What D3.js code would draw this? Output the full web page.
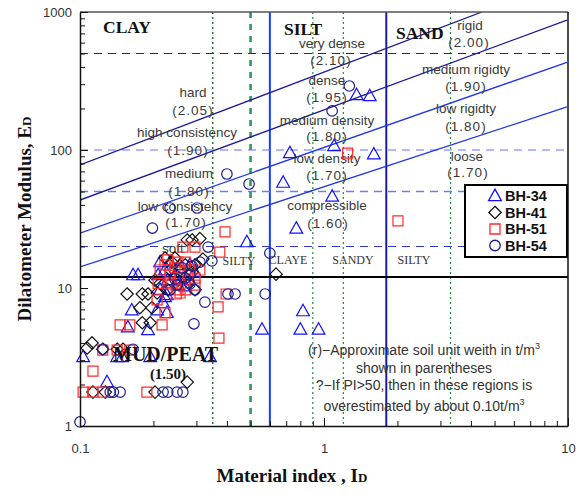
<!DOCTYPE html>
<html>
<head>
<meta charset="utf-8">
<script src="https://cdn.jsdelivr.net/npm/d3@7"></script>
<style>
  body { margin: 0; background: #fff; }
  svg { display: block; }
</style>
</head>
<body>
<div id="chart"></div>
<script>
// ---- data: [material index ID, dilatometer modulus ED] ----
const seriesNames = ["BH-34", "BH-41", "BH-51", "BH-54"];

const bh34 = [
  [1.36, 250], [1.54, 246], [0.725, 95], [1.10, 107], [1.60, 93], [0.68, 58], [1.08, 46],
  [0.77, 27], [0.483, 21.5], [0.82, 6.8], [0.557, 5.0], [0.80, 5.0], [0.95, 5.0],
  [0.341, 3.16], [0.103, 3.16], [0.142, 3.16], [0.149, 3.16], [0.194, 3.16], [0.129, 2.08],
  [0.163, 6.9], [0.157, 5.2], [0.190, 4.96], [0.207, 6.9], [0.227, 8.9], [0.227, 6.6],
  [0.173, 12.4], [0.165, 12.4], [0.223, 8.6], [0.219, 7.8],
  [0.213, 15.4], [0.223, 13.5], [0.245, 12.4], [0.27, 11.4], [0.282, 14.7], [0.252, 10.5],
  [0.234, 15.4], [0.257, 14.7], [0.296, 13.0], [0.229, 11.4], [0.27, 10.3], [0.213, 9.7],
  [0.209, 12.4]
];
const bh41 = [
  [0.636, 12.6], [0.275, 22.3], [0.288, 22.3], [0.31, 22.8], [0.319, 16.2],
  [0.156, 9.05], [0.180, 9.05], [0.190, 9.05], [0.207, 9.2], [0.176, 7.2], [0.197, 7.2],
  [0.180, 5.6], [0.194, 5.6], [0.112, 4.0], [0.107, 3.67], [0.124, 3.6], [0.142, 3.6],
  [0.150, 3.6], [0.113, 1.76], [0.127, 1.76], [0.203, 1.76], [0.275, 2.08],
  [0.223, 16.5], [0.238, 15.4], [0.257, 13.5], [0.277, 11.0], [0.229, 9.7], [0.213, 10.8],
  [0.203, 11.4], [0.296, 14.7], [0.245, 16.5], [0.27, 14.7], [0.288, 13.0], [0.234, 13.5],
  [0.252, 11.4], [0.296, 9.7]
];
const bh51 = [
  [1.25, 95], [2.01, 30.6], [0.393, 25.5], [0.296, 19.8], [0.264, 19.8], [0.374, 18.2],
  [0.229, 16.0], [0.397, 9.05], [0.368, 7.3], [0.371, 4.34], [0.257, 9.2], [0.209, 10.8],
  [0.207, 8.2], [0.223, 6.6], [0.217, 5.4], [0.146, 5.4], [0.160, 5.4], [0.124, 3.55],
  [0.142, 3.55], [0.160, 3.55], [0.113, 2.5], [0.103, 1.76], [0.113, 1.76], [0.124, 1.76],
  [0.188, 1.76], [0.245, 14.0], [0.27, 15.4], [0.282, 13.5], [0.257, 11.8], [0.238, 10.7],
  [0.296, 10.5], [0.234, 12.4], [0.252, 9.7], [0.223, 14.7], [0.252, 15.4], [0.277, 12.4],
  [0.296, 11.8], [0.234, 11.0], [0.27, 9.7], [0.31, 13.5], [0.213, 13.5], [0.248, 9.05]
];
const bh54 = [
  [1.27, 291], [1.08, 192], [0.40, 67], [0.493, 56.7], [0.234, 38], [0.302, 38],
  [0.198, 27.2], [0.335, 19.8], [0.347, 15.7], [0.60, 17.9], [0.325, 7.9], [0.404, 9.05],
  [0.432, 9.05], [0.574, 9.05], [0.293, 5.5], [0.124, 3.6], [0.165, 3.6], [0.133, 1.76],
  [0.137, 1.76], [0.146, 1.76], [0.219, 1.76], [0.229, 1.76], [0.25, 1.76], [0.264, 1.76],
  [0.100, 1.07], [0.282, 10.7], [0.262, 14.0], [0.282, 12.4], [0.296, 9.7], [0.25, 10.5],
  [0.234, 9.7], [0.31, 15.4], [0.27, 11.8], [0.288, 14.4], [0.245, 11.6]
];

// soil classification boundaries (ID) and reference modulus levels (ED)
const idBoundaries = [0.35, 0.5, 0.6, 0.9, 1.2, 1.8, 3.3];
const edLevels = [500, 100, 50, 20];
const edSolid = 12;
// unit weight boundary lines, endpoints [ID, ED]
const weightLines = [
  [[0.1, 78], [4.44, 1000]],
  [[0.1, 43.4], [9.9, 874]],
  [[0.1, 25], [9.9, 432]],
  [[0.1, 14.2], [9.9, 205]]
];
const xTicks = [0.1, 1, 10];
const yTicks = [1, 10, 100, 1000];

// ---- layout ----
const W = 577, H = 493;
const m = { left: 80, right: 568, top: 12, bottom: 426 };
const x = d3.scaleLog().domain([0.1, 10]).range([m.left, m.right]);
const y = d3.scaleLog().domain([1, 1000]).range([m.bottom, m.top]);

const svg = d3.select("#chart").append("svg")
  .attr("width", W)
  .attr("height", H);

svg.append("clipPath").attr("id", "plotClip")
  .append("rect")
  .attr("x", m.left).attr("y", m.top)
  .attr("width", m.right - m.left).attr("height", m.bottom - m.top);

const plot = svg.append("g").attr("clip-path", "url(#plotClip)");

// vertical boundaries
const vStyle = [
  { stroke: "#0a6a1a", width: 1.3, dash: "2,3" },
  { stroke: "#2e9a5a", width: 2.6, dash: "6,6" },
  { stroke: "#1a3cff", width: 2, dash: null },
  { stroke: "#1f8a3f", width: 1.2, dash: "2,3" },
  { stroke: "#1f8a3f", width: 1.2, dash: "2,3" },
  { stroke: "#1c1ca0", width: 2, dash: null },
  { stroke: "#1f8a3f", width: 1.2, dash: "2,3" }
];
plot.selectAll(".vline")
  .data(idBoundaries)
  .join("line")
  .attr("class", "vline")
  .attr("x1", d => x(d)).attr("x2", d => x(d))
  .attr("y1", m.top).attr("y2", m.bottom)
  .attr("stroke", (d, i) => vStyle[i].stroke)
  .attr("stroke-width", (d, i) => vStyle[i].width)
  .attr("stroke-dasharray", (d, i) => vStyle[i].dash);

// horizontal dashed levels
const hStyle = [
  { stroke: "#23238a", width: 1.1 },
  { stroke: "#6b6bff", width: 1.1 },
  { stroke: "#6b7bff", width: 1.6 },
  { stroke: "#2a3ad0", width: 1.1 }
];
plot.selectAll(".hline")
  .data(edLevels)
  .join("line")
  .attr("class", "hline")
  .attr("x1", m.left).attr("x2", m.right)
  .attr("y1", d => y(d)).attr("y2", d => y(d))
  .attr("stroke", (d, i) => hStyle[i].stroke)
  .attr("stroke-width", (d, i) => hStyle[i].width)
  .attr("stroke-dasharray", "8,6");

plot.append("line")
  .attr("x1", m.left).attr("x2", m.right)
  .attr("y1", y(edSolid)).attr("y2", y(edSolid))
  .attr("stroke", "#000").attr("stroke-width", 2);

// unit weight lines
const wColors = ["#1c1c9a", "#1c1c9a", "#1f35e6", "#1f35e6"];
plot.selectAll(".wline")
  .data(weightLines)
  .join("line")
  .attr("class", "wline")
  .attr("x1", d => x(d[0][0])).attr("y1", d => y(d[0][1]))
  .attr("x2", d => x(d[1][0])).attr("y2", d => y(d[1][1]))
  .attr("stroke", (d, i) => wColors[i])
  .attr("stroke-width", 1.3);

// zone labels
const sans = "'Liberation Sans', Arial, sans-serif";
const serif = "'Liberation Serif', 'Times New Roman', serif";
const zoneLabels = [
  ["hard", 193, 97], ["(2.05)", 193, 115], ["high consistency", 187, 137], ["(1.90)", 188, 155],
  ["medium", 189, 178], ["(1.80)", 189, 196], ["low consistency", 185, 211], ["(1.70)", 186, 227],
  ["soft", 173, 253],
  ["very dense", 332, 48], ["(2.10)", 331, 65], ["dense", 327, 85], ["(1.95)", 327, 102],
  ["medium density", 327, 125], ["(1.80)", 327, 141], ["low density", 327, 163], ["(1.70)", 327, 180],
  ["compressible", 327, 210], ["(1.60)", 328, 228],
  ["rigid", 470, 30], ["(2.00)", 469, 47], ["medium rigidty", 466, 74], ["(1.90)", 466, 91],
  ["low rigidty", 466, 113], ["(1.80)", 466, 131], ["loose", 467, 161], ["(1.70)", 468, 177]
];
svg.append("g").selectAll("text")
  .data(zoneLabels)
  .join("text")
  .attr("x", d => d[1]).attr("y", d => d[2])
  .attr("text-anchor", "middle")
  .attr("font-family", sans)
  .attr("font-size", 13.5)
  .attr("letter-spacing", d => d[0].startsWith("(") ? 1 : 0)
  .attr("fill", "#3a3a3a")
  .text(d => d[0]);

const bigLabels = [["CLAY", 103, 33], ["SILT", 284, 35], ["SAND", 396, 39]];
svg.append("g").selectAll("text")
  .data(bigLabels)
  .join("text")
  .attr("x", d => d[1]).attr("y", d => d[2])
  .attr("font-family", serif).attr("font-weight", "bold").attr("font-size", 17.5)
  .attr("fill", "#111")
  .text(d => d[0]);

const subLabels = [["SILTY", 239, 265], ["CLAYE", 288, 264], ["SANDY", 353, 264], ["SILTY", 414, 264]];
svg.append("g").selectAll("text")
  .data(subLabels)
  .join("text")
  .attr("x", d => d[1]).attr("y", d => d[2])
  .attr("text-anchor", "middle")
  .attr("font-family", serif).attr("font-size", 12)
  .attr("fill", "#333")
  .text(d => d[0]);

// markers
const shapes = {
  tri: s => `M0,${-s * 0.62}L${s * 0.58},${s * 0.42}L${-s * 0.58},${s * 0.42}Z`,
  dia: s => `M0,${-s * 0.62}L${s * 0.62},0L0,${s * 0.62}L${-s * 0.62},0Z`,
  sq: s => `M${-s / 2},${-s / 2}h${s}v${s}h${-s}Z`,
  circ: s => `M${s / 2},0A${s / 2},${s / 2} 0 1,1 ${-s / 2},0A${s / 2},${s / 2} 0 1,1 ${s / 2},0Z`
};
const seriesStyle = [
  { data: bh34, shape: "tri", color: "#1010ff", size: 11 },
  { data: bh41, shape: "dia", color: "#111", size: 10 },
  { data: bh51, shape: "sq", color: "#ff2a2a", size: 10 },
  { data: bh54, shape: "circ", color: "#1c1c90", size: 10.5 }
];
seriesStyle.forEach(s => {
  svg.append("g").selectAll("path")
    .data(s.data)
    .join("path")
    .attr("transform", d => `translate(${x(d[0])},${y(d[1])})`)
    .attr("d", shapes[s.shape](s.size))
    .attr("fill", "none")
    .attr("stroke", s.color)
    .attr("stroke-width", 1.2);
});

// MUD/PEAT label (drawn over markers)
svg.append("text")
  .attr("x", 113).attr("y", 361)
  .attr("font-family", serif).attr("font-weight", "bold").attr("font-size", 20)
  .attr("fill", "#111")
  .text("MUD/PEAT");
svg.append("text")
  .attr("x", 168).attr("y", 379)
  .attr("text-anchor", "middle")
  .attr("font-family", serif).attr("font-weight", "bold").attr("font-size", 15)
  .attr("fill", "#111")
  .text("(1.50)");

// notes
const notes = svg.append("g")
  .attr("font-family", sans).attr("font-size", 14)
  .attr("fill", "#333").attr("text-anchor", "middle");
const n1 = notes.append("text").attr("x", 424).attr("y", 355);
n1.append("tspan").text("(r)\u2212Approximate soil unit weith in t/m");
n1.append("tspan").attr("dy", -6).attr("font-size", 9).text("3");
notes.append("text").attr("x", 424).attr("y", 373).text("shown in parentheses");
notes.append("text").attr("x", 424).attr("y", 390).text("?\u2212If PI>50, then in these regions is");
const n4 = notes.append("text").attr("x", 424).attr("y", 411);
n4.append("tspan").text("overestimated by about 0.10t/m");
n4.append("tspan").attr("dy", -6).attr("font-size", 9).text("3");

// legend
const lg = svg.append("g").attr("transform", "translate(465,185)");
lg.append("rect")
  .attr("width", 102).attr("height", 72)
  .attr("fill", "#fff").attr("stroke", "#000").attr("stroke-width", 2);
seriesStyle.forEach((s, i) => {
  const row = lg.append("g").attr("transform", `translate(30,${11 + i * 16.5})`);
  row.append("path")
    .attr("d", shapes[s.shape](s.size))
    .attr("fill", "none").attr("stroke", s.color).attr("stroke-width", 1.3);
  row.append("text")
    .attr("x", 10).attr("y", 5)
    .attr("font-family", sans).attr("font-weight", "bold").attr("font-size", 14.5)
    .attr("fill", "#111")
    .text(seriesNames[i]);
});

// frame and axes
svg.append("line")
  .attr("x1", m.left).attr("x2", m.right).attr("y1", m.top).attr("y2", m.top)
  .attr("stroke", "#555").attr("stroke-width", 1.5);
svg.append("line")
  .attr("x1", m.right).attr("x2", m.right).attr("y1", m.top).attr("y2", m.bottom)
  .attr("stroke", "#111").attr("stroke-width", 1.5);

const minorX = [], minorY = [];
[0.1, 1].forEach(b => { for (let k = 2; k <= 9; k++) minorX.push(b * k); });
[1, 10, 100].forEach(b => { for (let k = 2; k <= 9; k++) minorY.push(b * k); });

function styleAxis(g) {
  g.select(".domain").attr("stroke", "#111").attr("stroke-width", 1.5);
  g.selectAll(".tick line").attr("stroke", "#111");
  g.selectAll(".tick text")
    .attr("font-family", sans).attr("font-size", 13).attr("fill", "#333");
}

svg.append("g")
  .attr("transform", `translate(${m.left},0)`)
  .call(d3.axisLeft(y).tickValues(minorY).tickSize(-5).tickFormat(""))
  .call(g => g.select(".domain").remove())
  .call(g => g.selectAll(".tick line").attr("stroke", "#111"));
svg.append("g")
  .attr("transform", `translate(${m.left},0)`)
  .call(d3.axisLeft(y).tickValues(yTicks).tickSize(-8).tickSizeOuter(0).tickPadding(8).tickFormat(d3.format("d")))
  .call(styleAxis);

svg.append("g")
  .attr("transform", `translate(0,${m.bottom})`)
  .call(d3.axisBottom(x).tickValues(minorX).tickSize(-5).tickFormat(""))
  .call(g => g.select(".domain").remove())
  .call(g => g.selectAll(".tick line").attr("stroke", "#111"));
svg.append("g")
  .attr("transform", `translate(0,${m.bottom})`)
  .call(d3.axisBottom(x).tickValues(xTicks).tickSize(-8).tickSizeOuter(0).tickPadding(18).tickFormat(d => d === 0.1 ? "0.1" : d3.format("d")(d)))
  .call(styleAxis);

// axis titles
const yTitle = svg.append("text")
  .attr("transform", "translate(31,219) rotate(-90)")
  .attr("text-anchor", "middle")
  .attr("font-family", serif).attr("font-weight", "bold").attr("font-size", 19)
  .attr("fill", "#111");
yTitle.append("tspan").text("Dilatometer Modulus, E");
yTitle.append("tspan").attr("font-size", 13).text("D");

const xTitle = svg.append("text")
  .attr("x", 292).attr("y", 482)
  .attr("text-anchor", "middle")
  .attr("font-family", serif).attr("font-weight", "bold").attr("font-size", 19)
  .attr("fill", "#111");
xTitle.append("tspan").text("Material index , I");
xTitle.append("tspan").attr("font-size", 13).text("D");
</script>
</body>
</html>
